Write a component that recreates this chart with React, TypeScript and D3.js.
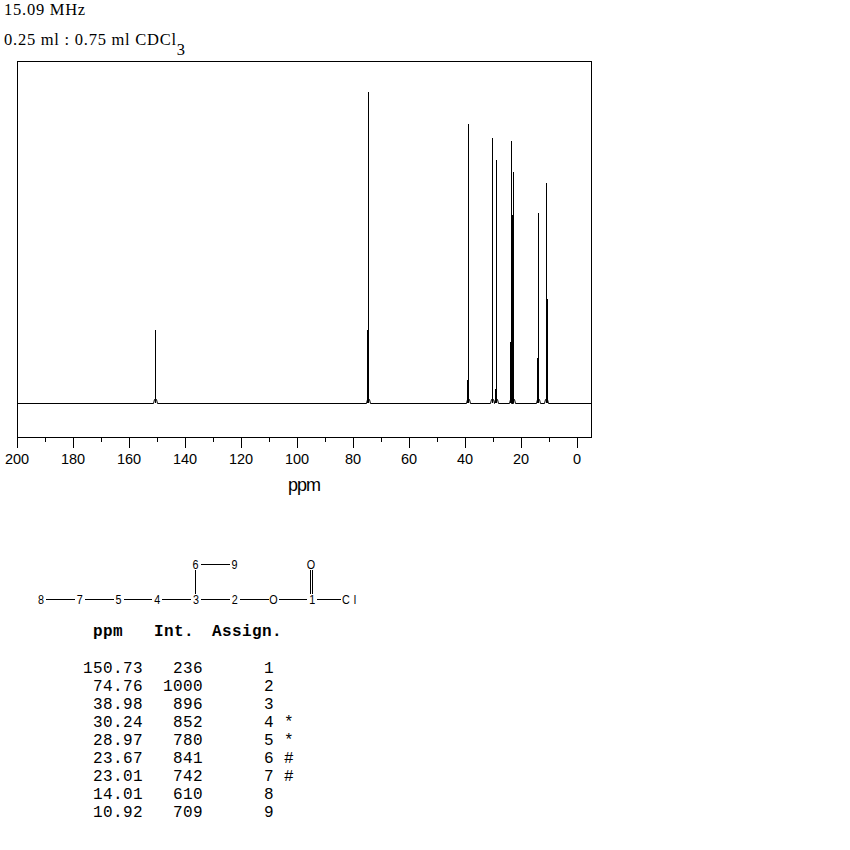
import * as d3 from "d3";
import React, { RefObject, useEffect, useRef } from "react";

const peakPpm = [150.73, 74.76, 38.98, 30.24, 28.97, 23.67, 23.01, 14.01, 10.92];
const peakInt = [236, 1000, 896, 852, 780, 841, 742, 610, 709];
const assign = ["1", "2", "3", "4", "5", "6", "7", "8", "9"];
const marks = ["", "", "", "*", "*", "#", "#", "", ""];
// lower neighbouring sample of each peak
const shoulderPpm = [150.73, 75.0, 39.2, 30.5, 29.3, 23.9, 23.3, 14.3, 10.6];
const shoulderInt = [0, 235, 74, 112, 45, 196, 605, 145, 334];
const xTicks = d3.range(0, 201, 10);
const chainAtoms = ["8", "7", "5", "4", "3", "2", "O", "1", "Cl"];

const App = () => {
  const d3Ref: RefObject<SVGSVGElement> = useRef(null);

  useEffect(() => {
    const svg = d3.select(d3Ref.current);
    svg.selectAll("*").remove();

    const left = 17;
    const right = 591;
    const top = 61;
    const bottom = 437;
    const base = 403;
    const x = d3.scaleLinear().domain([200, 0]).range([left, 577]);
    const y = d3.scaleLinear().domain([0, 1000]).range([base, 92]);

    // header
    const header = svg
      .append("g")
      .attr("font-family", "Liberation Serif")
      .attr("font-size", 16.5)
      .attr("letter-spacing", 0.75)
      .attr("fill", "#000");
    header.append("text").attr("x", 4).attr("y", 15).text("15.09 MHz");
    const sample = header.append("text").attr("x", 4).attr("y", 45).text("0.25 ml : 0.75 ml CDCl");
    sample.append("tspan").attr("dy", 10).text("3");

    // frame
    svg
      .append("rect")
      .attr("x", left + 0.5)
      .attr("y", top + 0.5)
      .attr("width", right - left)
      .attr("height", bottom - top)
      .attr("fill", "none")
      .attr("stroke", "#000");

    // axis
    const axis = svg.append("g").attr("shape-rendering", "crispEdges");
    axis
      .selectAll("line")
      .data(xTicks)
      .enter()
      .append("line")
      .attr("x1", (d) => Math.round(x(d)) + 0.5)
      .attr("x2", (d) => Math.round(x(d)) + 0.5)
      .attr("y1", bottom)
      .attr("y2", (d) => (d % 20 === 0 ? bottom + 11 : bottom + 5))
      .attr("stroke", "#000");
    svg
      .append("g")
      .attr("font-family", "Liberation Sans")
      .attr("font-size", 14.5)
      .attr("text-anchor", "middle")
      .selectAll("text")
      .data(xTicks.filter((d) => d % 20 === 0))
      .enter()
      .append("text")
      .attr("x", (d) => x(d))
      .attr("y", 464)
      .text((d) => String(d));
    svg
      .append("text")
      .attr("x", 304)
      .attr("y", 491)
      .attr("font-family", "Liberation Sans")
      .attr("font-size", 18)
      .attr("letter-spacing", -1)
      .attr("text-anchor", "middle")
      .text("ppm");

    // baseline with small foot under every peak
    const footH = 4;
    const segs: [number, number][] = [[left, base]];
    peakPpm.forEach((p) => {
      const px = Math.round(x(p));
      segs.push([px - 2, base], [px - 1, base - footH], [px + 1, base - footH], [px + 2, base]);
    });
    segs.push([right, base]);
    svg
      .append("path")
      .attr("d", d3.line()(segs) as string)
      .attr("fill", "none")
      .attr("stroke", "#000")
      .attr("transform", "translate(0.5,0.5)");

    // peaks
    const sticks = svg.append("g").attr("shape-rendering", "crispEdges").attr("stroke", "#000");
    sticks
      .selectAll("line.main")
      .data(peakPpm)
      .enter()
      .append("line")
      .attr("class", "main")
      .attr("x1", (d) => Math.round(x(d)) + 0.5)
      .attr("x2", (d) => Math.round(x(d)) + 0.5)
      .attr("y1", base)
      .attr("y2", (d, i) => y(peakInt[i]));
    sticks
      .selectAll("line.shoulder")
      .data(shoulderPpm.filter((d, i) => shoulderInt[i] > 0))
      .enter()
      .append("line")
      .attr("class", "shoulder")
      .attr("x1", (d) => Math.round(x(d)) + 0.5)
      .attr("x2", (d) => Math.round(x(d)) + 0.5)
      .attr("y1", base)
      .attr("y2", (d) => y(shoulderInt[shoulderPpm.indexOf(d)]));

    // structure
    const chainX = d3
      .scalePoint<string>()
      .domain(chainAtoms)
      .range([41, 351]);
    const mainY = 599;
    const upY = 564;
    const bonds = svg.append("g").attr("stroke", "#000").attr("shape-rendering", "crispEdges");
    const bond = (x1: number, y1: number, x2: number, y2: number) =>
      bonds.append("line").attr("x1", x1).attr("y1", y1).attr("x2", x2).attr("y2", y2);
    d3.pairs(chainAtoms).forEach(([a, b]) => {
      const gap = b === "Cl" ? 10 : 5;
      bond((chainX(a) as number) + 5, mainY + 0.5, (chainX(b) as number) - gap, mainY + 0.5);
    });
    const x3 = Math.round(chainX("3") as number) - 0.5;
    const x1a = Math.round(chainX("1") as number);
    bond(x3, upY + 6, x3, mainY - 5);
    bond(x3 + 5, upY + 0.5, x3 + 34, upY + 0.5);
    bond(x1a - 1.5, upY + 6, x1a - 1.5, mainY - 5);
    bond(x1a + 0.5, upY + 6, x1a + 0.5, mainY - 5);

    // labels are tall and narrow in the original bitmap font
    const atoms = svg
      .append("g")
      .attr("font-family", "Liberation Sans")
      .attr("font-size", 13.5)
      .attr("text-anchor", "middle");
    const atom = (ax: number, ay: number, label: string) =>
      atoms
        .append("text")
        .attr("transform", `translate(${ax},${ay + 5}) scale(0.8,1)`)
        .attr("letter-spacing", label === "Cl" ? 5 : 0)
        .text(label);
    chainAtoms.forEach((a) => atom(chainX(a) as number, mainY, a));
    atom(x3, upY, "6");
    atom(x3 + 39, upY, "9");
    atom(x1a - 1, upY, "O");

    // table
    const table = svg
      .append("g")
      .attr("font-family", "Liberation Mono")
      .attr("font-size", 16)
      .attr("letter-spacing", 0.4)
      .attr("fill", "#000");
    const rowY = d3.scaleLinear().domain([0, 1]).range([673, 691]);
    table.append("text").attr("x", 93).attr("y", 636).attr("font-weight", "bold").text("ppm");
    table.append("text").attr("x", 154).attr("y", 636).attr("font-weight", "bold").text("Int.");
    table.append("text").attr("x", 212).attr("y", 636).attr("font-weight", "bold").text("Assign.");
    peakPpm.forEach((p, i) => {
      const ty = rowY(i);
      table.append("text").attr("x", 143).attr("y", ty).attr("text-anchor", "end").text(p.toFixed(2));
      table.append("text").attr("x", 203).attr("y", ty).attr("text-anchor", "end").text(String(peakInt[i]));
      table.append("text").attr("x", 264).attr("y", ty).text(assign[i]);
      table.append("text").attr("x", 284).attr("y", ty).text(marks[i]);
    });
  }, [d3Ref]);

  return (
    <svg
      ref={d3Ref}
      width={850}
      height={850}
      style={{ position: "absolute", left: 0, top: 0, background: "#fff" }}
    />
  );
};

export default App;
